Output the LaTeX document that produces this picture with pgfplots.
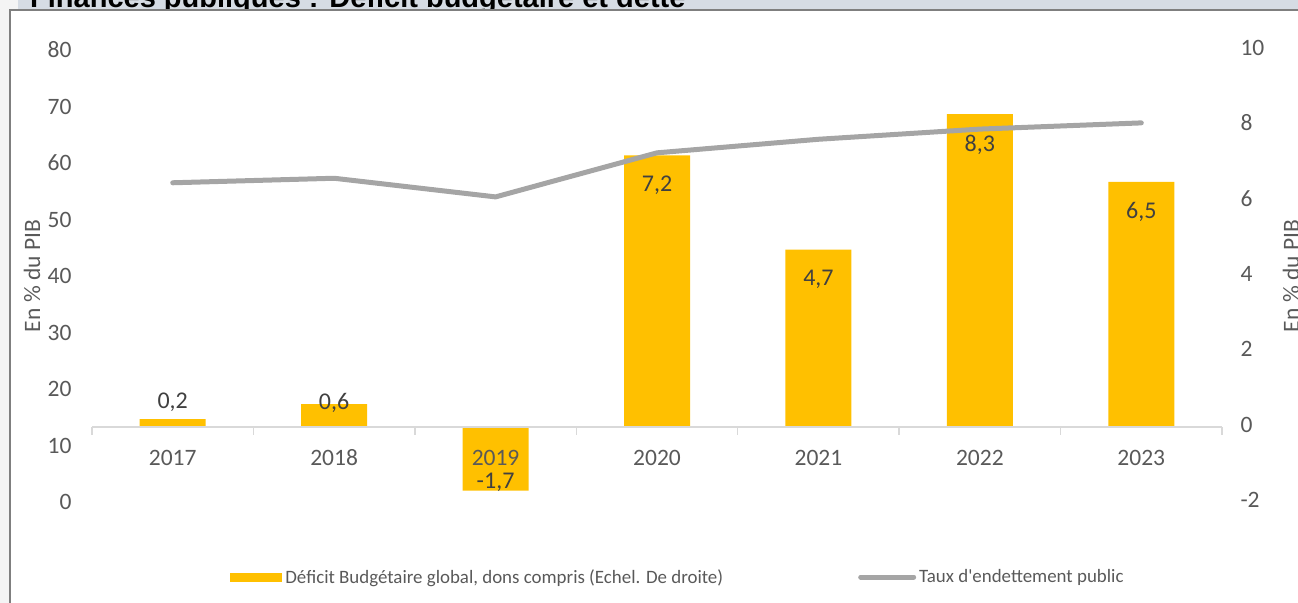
\documentclass[border=0pt]{standalone}
\usepackage{pgfplots}
\pgfplotsset{compat=1.18}
\usepackage{fontspec}
\setmainfont{Carlito}
\newfontfamily\titlefont{Liberation Sans}
\definecolor{barc}{HTML}{FFC000}
\definecolor{linec}{HTML}{A5A5A5}
\definecolor{tickc}{HTML}{595959}
\definecolor{labc}{HTML}{404040}
\definecolor{axc}{HTML}{D9D9D9}
\definecolor{bandc}{HTML}{D6DCE4}
\definecolor{framec}{HTML}{7F7F7F}
\definecolor{marginc}{HTML}{F4F4F4}
\begin{document}
\begin{tikzpicture}
\useasboundingbox (0,0) rectangle (1298bp,603bp);
\fill[marginc] (0,0) rectangle (10bp,603bp);
\fill[marginc] (0,593bp) rectangle (18bp,603bp);
\fill[bandc] (18bp,593bp) rectangle (1298bp,603bp);
\begin{scope}
\clip (18bp,593bp) rectangle (1298bp,603bp);
\node[anchor=base west, inner sep=0pt, font=\titlefont\bfseries\fontsize{29bp}{34bp}\selectfont] at (30bp,595bp) {Finances publiques : Déficit budgétaire et dette};
\end{scope}
\draw[framec, line width=2bp] (10bp,0) -- (10bp,593bp) -- (1298bp,593bp);

% bars, right scale
\begin{axis}[
 at={(92bp,101bp)}, anchor=south west, scale only axis, width=1130bp, height=452bp,
 xmin=-0.5, xmax=6.5, ymin=-2, ymax=10,
 axis on top,
 axis x line=middle, axis y line*=right,
 x axis line style={-, draw=axc, line width=2bp},
 y axis line style={draw=none},
 xtick={0,...,6}, xticklabels={2017,2018,2019,2020,2021,2022,2023},
 minor xtick={-0.5,0.5,...,6.5},
 xtick align=outside, major tick length=0pt, minor tick length=8bp,
 minor x tick style={draw=axc, line width=1.5bp},
 hide obscured x ticks=false,
 typeset ticklabels with strut,
 ytick={-2,0,...,10}, yticklabels={-2,0,2,4,6,8,10},
 tick label style={font=\fontsize{23.5bp}{28bp}\selectfont, text=tickc},
 yticklabel style={xshift=15bp}, xticklabel style={yshift=-16bp},
 every axis y label/.style={at={(axis description cs:1.061,0.5)}, rotate=90, anchor=center, font=\fontsize{23.5bp}{28bp}\selectfont, text=tickc},
 ylabel={En \% du PIB},
 legend columns=2,
 legend style={at={(axis description cs:0.519,-0.166)}, anchor=center, draw=none, fill=none,
   font=\fontsize{18.9bp}{22bp}\selectfont, text=tickc, inner sep=0pt, nodes={inner sep=3bp},
   /tikz/every even column/.append style={column sep=132bp}},
]
\addplot[ybar, bar width=66bp, fill=barc, draw=none,
  legend image code/.code={\fill[barc] (0bp,-4.5bp) rectangle (52bp,4.5bp);}]
  coordinates {(0,0.2)(1,0.6)(2,-1.7)(3,7.2)(4,4.7)(5,8.3)(6,6.5)};
\addlegendentry{Déficit Budgétaire global, dons compris (Echel. De droite)}
\addplot[forget plot, draw=none, mark=none, nodes near coords, point meta=explicit symbolic,
  nodes near coords align=center,
  every node near coord/.append style={font=\fontsize{24bp}{28bp}\selectfont, text=labc, anchor=center, inner sep=0pt}]
  coordinates {(0,0.64) [0,2] (1,0.64) [0,6] (2,-1.47) [-1,7] (3,6.42) [7,2] (4,3.90) [4,7] (5,7.49) [8,3] (6,5.71) [6,5]};
\addlegendimage{legend image code/.code={\draw[line width=5bp, linec, line cap=round] (0bp,0bp) -- (53bp,0bp);}}
\addlegendentry{Taux d\textquotesingle endettement public}
\end{axis}

% line, left scale
\begin{axis}[
 at={(92bp,101bp)}, anchor=south west, scale only axis, width=1130bp, height=452bp,
 xmin=-0.5, xmax=6.5, ymin=0, ymax=80,
 axis x line=none, axis y line*=left, y axis line style={draw=none},
 ytick={0,10,...,80}, yticklabels={0,10,20,30,40,50,60,70,80}, major tick length=0pt,
 tick label style={font=\fontsize{23.5bp}{28bp}\selectfont, text=tickc},
 yticklabel style={xshift=-17bp},
 every axis y label/.style={at={(axis description cs:-0.0531,0.5)}, rotate=90, anchor=center, font=\fontsize{23.5bp}{28bp}\selectfont, text=tickc},
 ylabel={En \% du PIB},
 clip=false,
]
\addplot[linec, line width=5bp, line cap=round, line join=round, mark=none]
  coordinates {(0,56.5)(1,57.3)(2,54.0)(3,61.8)(4,64.2)(5,66.0)(6,67.1)};
\end{axis}
\end{tikzpicture}
\end{document}
